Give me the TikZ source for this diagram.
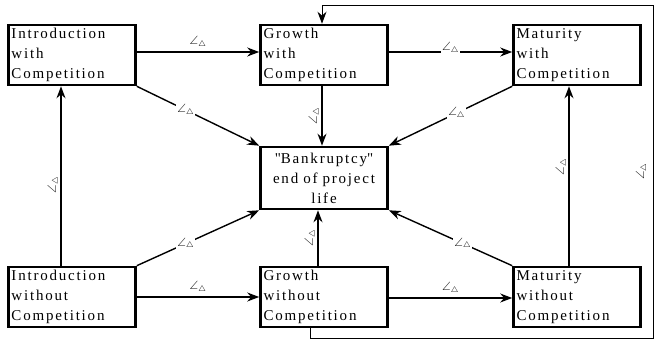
\documentclass[tikz,border=0pt]{standalone}
\usepackage{amsmath}
\usepackage{amssymb}
\usepackage{fontspec}
\setmainfont{Liberation Serif}[LetterSpace=12]
\usetikzlibrary{arrows.meta,positioning}
\newcommand{\rate}{$\angle_{\triangle}$}
\tikzset{
  every picture/.style = {
    x = 1pt,
    y = -1pt,
    >={Stealth[length=12pt,width=9pt]},
  }
  ,
  stage/.style = {
    rectangle,
    draw,
    line width = 2.6pt,
    font = \fontsize{15}{20}\selectfont,
    text width = 121pt,
    align = left,
    inner sep = 2pt,
    minimum width = 127pt,
    minimum height = 60pt
  }
  , % the end state
  sink/.style = {
    stage,
    align = center,
    minimum height = 62pt
  }
  , % transitions
  flow/.style = {
    ->,
    line width = 1.4pt
  }
  , % labels of transitions
  label-rate/.style = {
    font = \large,
    inner sep = 1pt
  }
}

\begin{document}
\begin{tikzpicture}
    \useasboundingbox (0,0) rectangle (658,344);
    \node[stage] at (72,55) (intW) {Introduction\\with\\Competition};
    \node[stage] at (324,55) (growW) {Growth\\with\\Competition};
    \node[stage] at (577,55) (matW) {Maturity\\with\\Competition};
    \node[sink] at (324,178) (bank) {\textquotedbl Bankruptcy\textquotedbl\\end of project\\life};
    \node[stage] at (72,297) (intWo) {Introduction\\without\\Competition};
    \node[stage] at (324,297) (growWo) {Growth\\without\\Competition};
    \node[stage] at (577,297) (matWo) {Maturity\\without\\Competition};
    % top and bottom rows
    \draw[flow] ([yshift=3pt]intW.east) -- node[label-rate, above=2pt] {\rate} ([yshift=3pt]growW.west);
    \draw[flow] ([yshift=3pt]growW.east) -- node[label-rate, fill=white, above=-4pt] {\rate} ([yshift=3pt]matW.west);
    \draw[flow] (intWo.east) -- node[label-rate, above=2pt] {\rate} (growWo.west);
    \draw[flow] ([yshift=-1pt]growWo.east) -- node[label-rate, above=2pt] {\rate} ([yshift=-1pt]matWo.west);
    % into bankruptcy
    \draw[flow] (intW.south east) -- node[label-rate, fill=white, pos=0.4] {\rate} (bank.north west);
    \draw[flow] ([xshift=-2pt]growW.south) -- node[label-rate, rotate=90, anchor=south] {\rate} ([xshift=-2pt]bank.north);
    \draw[flow] (matW.south west) -- node[label-rate, fill=white, pos=0.45] {\rate} (bank.north east);
    \draw[flow] (intWo.north east) -- node[label-rate, fill=white, pos=0.4] {\rate} (bank.south west);
    \draw[flow] ([xshift=-6pt]growWo.north) -- node[label-rate, rotate=90, anchor=south] {\rate} ([xshift=-6pt]bank.south);
    \draw[flow] (matWo.north west) -- node[label-rate, fill=white, pos=0.4] {\rate} (bank.south east);
    % arrival of competition
    \draw[flow] ([xshift=-11pt]intWo.north) -- node[label-rate, rotate=90, anchor=south, pos=0.45] {\rate} ([xshift=-11pt]intW.south);
    \draw[flow] ([xshift=-8pt]matWo.north) -- node[label-rate, rotate=90, anchor=south, pos=0.55] {\rate} ([xshift=-8pt]matW.south);
    % feedback loop
    \coordinate (loopBR) at (653,338);
    \coordinate (loopTR) at (653,5);
    \draw[->, line width=0.9pt] ([xshift=-14pt]growWo.south) |- (loopBR)
        -- node[label-rate, rotate=90, anchor=south, pos=0.5, yshift=4pt] {\rate} (loopTR)
        -| ([xshift=-2pt]growW.north);
\end{tikzpicture}
\end{document}
